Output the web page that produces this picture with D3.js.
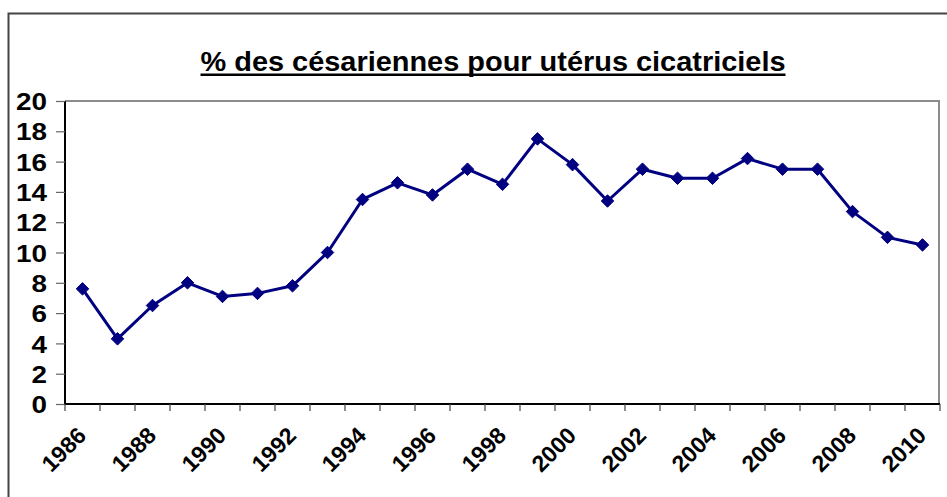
<!DOCTYPE html>
<html>
<head>
<meta charset="utf-8">
<script src="https://cdn.jsdelivr.net/npm/d3@7"></script>
<style>
  html, body { margin: 0; padding: 0; background: #fff; }
  svg { display: block; }
  text { font-family: "Liberation Sans", Arial, sans-serif; font-weight: bold; }
</style>
</head>
<body>
<script>
const title = "% des césariennes pour utérus cicatriciels";
const years = d3.range(1986, 2011);
const values = [7.6, 4.3, 6.5, 8.0, 7.1, 7.3, 7.8, 10.0, 13.5, 14.6, 13.8, 15.5, 14.5, 17.5,
                15.8, 13.4, 15.5, 14.9, 14.9, 16.2, 15.5, 15.5, 12.7, 11.0, 10.5];
const yTicks = [0, 2, 4, 6, 8, 10, 12, 14, 16, 18, 20];
const xLabels = years.filter(y => (y - 1986) % 2 === 0);

const W = 947, H = 497;
const svg = d3.select("body").append("svg").attr("width", W).attr("height", H);

// outer chart frame
svg.append("rect").attr("x", 8.5).attr("y", 13.5).attr("width", 960).attr("height", 520)
  .attr("fill", "none").attr("stroke", "#444").attr("stroke-width", 2);

const L = 65, R = 939, T = 101, B = 404;
const x = d3.scaleBand().domain(years).range([L, L + 35 * years.length]).padding(0);
const y = d3.scaleLinear().domain([0, 20]).range([B, T]);

// plot area border (top/right gray)
svg.append("path").attr("d", `M${L},${T}H${R}V${B}`)
  .attr("fill", "none").attr("stroke", "#8c8c8c").attr("stroke-width", 2);

// title
svg.append("text").attr("x", 493).attr("y", 71).attr("text-anchor", "middle")
  .attr("font-size", 27).attr("fill", "#000")
  .attr("textLength", 585).attr("lengthAdjust", "spacingAndGlyphs").text(title);
svg.append("rect").attr("x", 493 - 585 / 2).attr("y", 73.5).attr("width", 585).attr("height", 2.5).attr("fill", "#000");

// y axis
const yAxis = svg.append("g").attr("transform", `translate(${L},0)`)
  .call(d3.axisLeft(y).tickValues(yTicks).tickSize(9).tickPadding(9).tickFormat(d3.format("d")));
yAxis.select(".domain").attr("stroke", "#000").attr("stroke-width", 2).attr("d", `M0,${T}V${B}`);
yAxis.selectAll(".tick line").attr("stroke", "#666").attr("stroke-width", 1.2);
yAxis.selectAll(".tick text").attr("font-size", 24).attr("font-family", "Liberation Sans, Arial, sans-serif")
  .attr("font-weight", "bold").attr("fill", "#000").attr("dy", "0.36em")
  .attr("textLength", d => String(d).length * 15.5).attr("lengthAdjust", "spacingAndGlyphs");

// x axis
const xg = svg.append("g").attr("transform", `translate(0,${B})`);
xg.append("line").attr("x1", L).attr("x2", x.range()[1]).attr("y1", 0).attr("y2", 0)
  .attr("stroke", "#000").attr("stroke-width", 2);
const bounds = years.map(d => x(d)).concat([x.range()[1]]);
xg.selectAll("line.tk").data(bounds).join("line").attr("class", "tk")
  .attr("x1", d => d).attr("x2", d => d).attr("y1", 0).attr("y2", 7)
  .attr("stroke", "#444").attr("stroke-width", 1.2);
xg.selectAll("text.lb").data(xLabels).join("text").attr("class", "lb")
  .attr("font-size", 23).attr("fill", "#000").attr("text-anchor", "end")
  .attr("transform", d => `translate(${x(d) + x.bandwidth() / 2 + 5},${33}) rotate(-45)`)
  .text(d => d);

// line
const cx = d => x(d) + x.bandwidth() / 2;
const line = d3.line().x((d, i) => cx(years[i])).y(d => y(d));
svg.append("path").datum(values).attr("d", line).attr("fill", "none")
  .attr("stroke", "#000080").attr("stroke-width", 3).attr("stroke-linejoin", "round");

// markers
svg.selectAll("path.mk").data(values).join("path").attr("class", "mk")
  .attr("d", d3.symbol().type(d3.symbolDiamond2).size(100))
  .attr("transform", (d, i) => `translate(${cx(years[i])},${y(d)})`)
  .attr("fill", "#000080").attr("stroke", "#000080").attr("stroke-width", 1);
</script>
</body>
</html>
